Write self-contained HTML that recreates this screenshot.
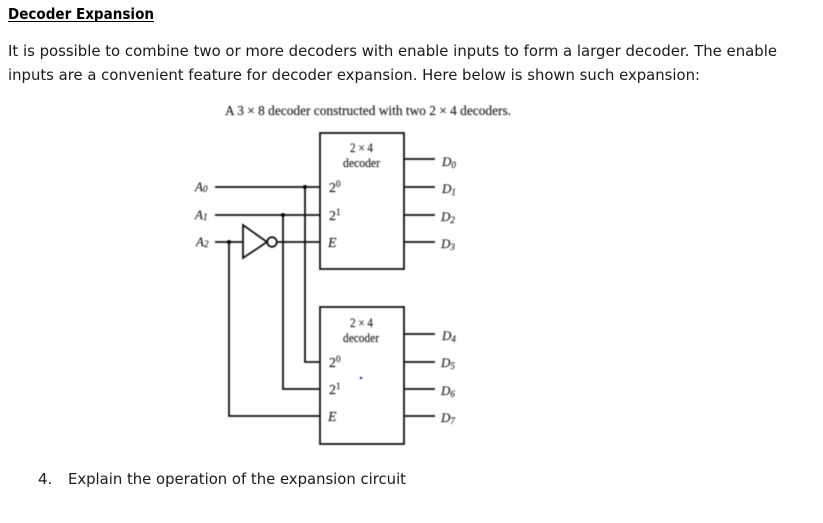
<!DOCTYPE html>
<html>
<head>
<meta charset="utf-8">
<style>
html,body{margin:0;padding:0;background:#fff;width:823px;height:523px;overflow:hidden}
svg{display:block}
.t{font-family:"DejaVu Sans",sans-serif;font-size:15px;fill:#1a1a1a}
.s{font-family:"Liberation Serif",serif;fill:#222;stroke:#222;stroke-width:.15px}
.i{font-style:italic}
</style>
</head>
<body>
<svg width="823" height="523" viewBox="0 0 823 523" xmlns="http://www.w3.org/2000/svg">
<text class="t" x="8" y="19" font-weight="bold" style="fill:#000" textLength="146" lengthAdjust="spacingAndGlyphs">Decoder Expansion</text>
<rect x="8" y="21" width="146" height="1" fill="#000"/>
<text class="t" x="8" y="56" textLength="769" lengthAdjust="spacingAndGlyphs">It is possible to combine two or more decoders with enable inputs to form a larger decoder. The enable</text>
<text class="t" x="8" y="80" textLength="692" lengthAdjust="spacingAndGlyphs">inputs are a convenient feature for decoder expansion. Here below is shown such expansion:</text>
<text class="t" x="38" y="484">4.</text>
<text class="t" x="68" y="484" textLength="338" lengthAdjust="spacingAndGlyphs">Explain the operation of the expansion circuit</text>

<g style="filter:blur(0.4px)">
<text class="s" x="225" y="115" font-size="14" textLength="286" lengthAdjust="spacingAndGlyphs">A 3 × 8 decoder constructed with two 2 × 4 decoders.</text>
<g fill="none" stroke="#111" stroke-width="1.8">
<rect x="320" y="133" width="84" height="136"/>
<rect x="320" y="307" width="84" height="137"/>
<path d="M215 187H320M215 215H320M215 242H243M277 242H320"/>
<path d="M305 187V362H320M283 215V389H320M229 242V416H320"/>
<path d="M243 225V258L267 242Z"/>
<circle cx="272" cy="242" r="4.8"/>
<path d="M404 159H435M404 187H435M404 215H435M404 242H435M404 334H435M404 362H435M404 389H435M404 416H435"/>
</g>
<circle cx="305" cy="187" r="2" fill="#000"/>
<circle cx="283" cy="215" r="2" fill="#000"/>
<circle cx="229" cy="242" r="2" fill="#000"/>
<circle cx="361" cy="378" r="1.2" fill="#1a1ae0"/>

<g class="s" font-size="13">
<text x="350" y="152" textLength="23" lengthAdjust="spacingAndGlyphs">2 × 4</text>
<text x="343" y="167" textLength="37" lengthAdjust="spacingAndGlyphs">decoder</text>
<text x="350" y="327" textLength="23" lengthAdjust="spacingAndGlyphs">2 × 4</text>
<text x="343" y="342" textLength="36" lengthAdjust="spacingAndGlyphs">decoder</text>
</g>

<g class="s" font-size="14">
<text x="329" y="192">2<tspan font-size="9" dy="-5">0</tspan></text>
<text x="329" y="220">2<tspan font-size="9" dy="-5">1</tspan></text>
<text class="i" x="328" y="247">E</text>
<text x="329" y="367">2<tspan font-size="9" dy="-5">0</tspan></text>
<text x="329" y="394">2<tspan font-size="9" dy="-5">1</tspan></text>
<text class="i" x="328" y="421">E</text>
</g>

<g class="s i" font-size="13">
<text x="195" y="191">A<tspan font-size="9" dy="1">0</tspan></text>
<text x="195" y="219">A<tspan font-size="9" dy="1">1</tspan></text>
<text x="196" y="246">A<tspan font-size="9" dy="1">2</tspan></text>
<text x="442" y="166">D<tspan font-size="9" dy="2">0</tspan></text>
<text x="442" y="193">D<tspan font-size="9" dy="2">1</tspan></text>
<text x="441" y="221">D<tspan font-size="9" dy="2">2</tspan></text>
<text x="441" y="248">D<tspan font-size="9" dy="2">3</tspan></text>
<text x="442" y="340">D<tspan font-size="9" dy="2">4</tspan></text>
<text x="441" y="367">D<tspan font-size="9" dy="2">5</tspan></text>
<text x="441" y="395">D<tspan font-size="9" dy="2">6</tspan></text>
<text x="441" y="422">D<tspan font-size="9" dy="2">7</tspan></text>
</g>
</g>
</svg>
</body>
</html>
